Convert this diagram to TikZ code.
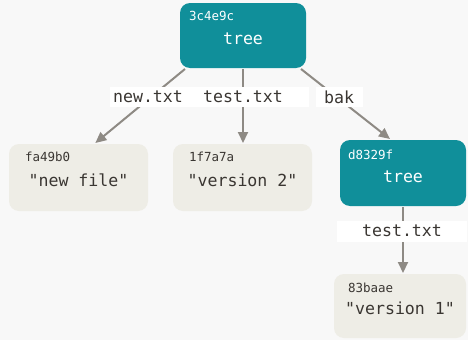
\documentclass[tikz,border=0pt]{standalone}
\usepackage{fontspec}
\setmonofont{DejaVu Sans Mono}
\usetikzlibrary{arrows.meta}
\usetikzlibrary{calc}

\definecolor{treeteal}{HTML}{108F9A}
\definecolor{blobgray}{HTML}{EEEDE6}
\definecolor{arrowgray}{HTML}{8E8A84}
\definecolor{pagegray}{HTML}{F8F8F8}
\definecolor{blobtext}{HTML}{3A3632}

\begin{document}
\begin{tikzpicture}[x=1pt, y=-1pt, line width=2pt,
        tree_style/.style={rectangle,rounded corners=10pt,fill=treeteal,text=white,inner sep=0pt,minimum width=126pt,minimum height=65pt,text height=18.4pt,text depth=0pt,font=\ttfamily\fontsize{16.6}{18}\selectfont},
        blob_style/.style={rectangle,rounded corners=10pt,fill=blobgray,text=blobtext,inner sep=0pt,minimum width=139pt,minimum height=67pt,text height=17pt,text depth=0pt,font=\ttfamily\fontsize{16.6}{18}\selectfont},
        hash_style/.style={anchor=north west,inner sep=0pt,font=\ttfamily\fontsize{12.5}{14}\selectfont},
        edge_style/.style={draw=arrowgray, line width=2pt, -{Triangle[length=11pt,width=10pt]}},
        name_style/.style={rectangle,fill=white,text=blobtext,inner sep=0pt,minimum height=20pt,font=\ttfamily\fontsize{16.6}{18}\selectfont}]

        \fill [pagegray] (0,0) rectangle (468,340);
        \useasboundingbox (0,0) rectangle (468,340);

        \node [tree_style,label={[hash_style,text=white,xshift=9pt,yshift=-8pt]north west:3c4e9c}](top) at (243,35.5) {tree};

        \node [blob_style,label={[hash_style,text=blobtext,xshift=16pt,yshift=-8pt]north west:fa49b0}](newfile) at (78.5,177.5) {"new file"};

        \node [blob_style,label={[hash_style,text=blobtext,xshift=16pt,yshift=-8pt]north west:1f7a7a}](ver2) at (242.5,177.5) {"version 2"};

        \node [tree_style,minimum height=66pt,label={[hash_style,text=white,xshift=8pt,yshift=-10pt]north west:d8329f}](bak) at (403,173) {tree};

        \node [blob_style,minimum width=132pt,minimum height=64pt,label={[hash_style,text=blobtext,xshift=14pt,yshift=-9pt]north west:83baae}](ver1) at (400,306) {"version 1"};

        \draw [edge_style] (top.-150) -- (newfile.64);

        \draw [edge_style] (top.south) -- (top.south |- ver2.north);

        \draw [edge_style] (top.-30) -- (bak.111);

        \draw [edge_style] (bak.south) -- (bak.south |- ver1.north);

        \node [name_style,minimum width=132pt](name_test) at (243,97) {test.txt};

        \node [name_style,minimum width=76pt](name_new) at (148,97) {new.txt};

        \node [name_style,minimum width=47pt](name_bak) at (339,97) {bak};

        \node [name_style,minimum width=130pt,minimum height=21pt](name_test2) at (402,231) {test.txt};

        \end{tikzpicture}
\end{document}
